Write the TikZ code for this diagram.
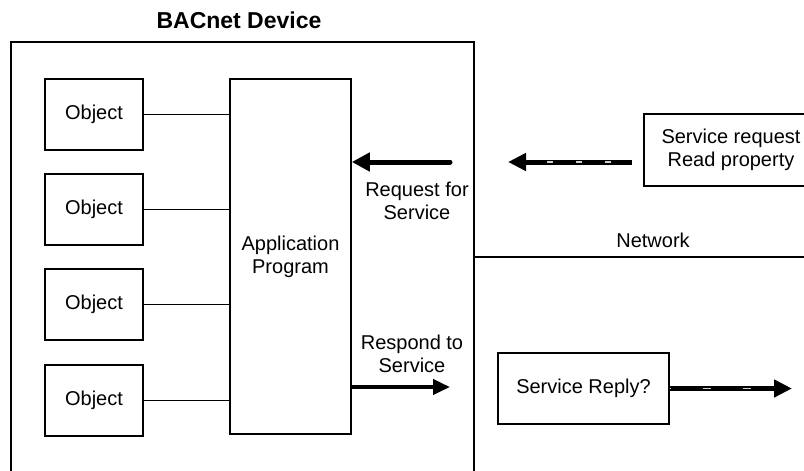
\documentclass[tikz,border=0pt]{standalone}
\usepackage{fontspec}
\setmainfont{Liberation Sans}
\usetikzlibrary{arrows.meta}
\begin{document}
\begin{tikzpicture}[x=1pt,y=-1pt,
  box/.style={draw,line width=1.6pt,inner sep=0pt,align=center,font=\fontsize{20}{23}\selectfont},
  objbox/.style={box,minimum width=98pt,minimum height=71pt},
  link/.style={line width=1.4pt},
  frame/.style={line width=1.6pt},
  lbl/.style={inner sep=0pt,align=center,font=\fontsize{20}{23}\selectfont},
  bigarrow/.style={line width=5pt,line cap=round,-{Triangle[length=18pt,width=18pt]}},
  midarrow/.style={line width=4pt,-{Triangle[length=17pt,width=15pt]}},
  dasharrow/.style={line width=5pt,-{Triangle[length=18pt,width=17pt]}},
  dashgap/.style={line width=1.8pt,draw=black!18}]
\useasboundingbox (0,0) rectangle (804,471);
\clip (0,0) rectangle (804,471);
% device frame (open at the bottom)
\draw[frame] (11,490) -- (11,42) -- (474,42) -- (474,490);
\node[inner sep=0pt,font=\bfseries\fontsize{23}{26}\selectfont] (title) at (239,20) {BACnet Device};
% objects
\node[objbox] (o1) at (94,114.5) {Object};
\node[objbox] (o2) at (94,209.5) {Object};
\node[objbox] (o3) at (94,304.5) {Object};
\node[objbox] (o4) at (94,400.5) {Object};
% application program
\node[box,minimum width=121pt,minimum height=355pt] (app) at (290.5,256.5) {Application\\Program};
\foreach \i in {1,2,3,4}{\draw[link] (o\i.east) -- (o\i.east -| app.west);}
% network
\coordinate (netL) at (474,257);
\coordinate (netR) at (810,257);
\draw[frame] (netL) -- (netR);
\node[lbl] (net) at (653,240) {Network};
% request side
\node[box,minimum width=174pt,minimum height=72pt] (srq) at (731,150) {Service request\\Read property};
\coordinate (rqA) at (632,162);
\coordinate (rqB) at (508,162);
\coordinate (rqG) at (530,162);
\draw[dasharrow] (rqA) -- (rqB);
\draw[dashgap,dash pattern=on 6pt off 23pt,dash phase=8pt] (rqA) -- (rqG);
\coordinate (inA) at (450,162);
\draw[bigarrow] (inA) -- (inA -| app.east);
\node[lbl] (reqlbl) at (417,201) {Request for\\Service};
% respond side
\coordinate (outB) at (450,387);
\draw[midarrow] (outB -| app.east) -- (outB);
\node[lbl] (reslbl) at (412,354) {Respond to\\Service};
\node[box,minimum width=171pt,minimum height=71pt] (srp) at (583.5,388.5) {Service Reply?};
\coordinate (rpB) at (792,388.5);
\coordinate (rpG) at (770,388.5);
\draw[dasharrow] (srp.east) -- (rpB);
\draw[dashgap,dash pattern=on 8pt off 32pt,dash phase=7pt] (srp.east) -- (rpG);
\end{tikzpicture}
\end{document}
